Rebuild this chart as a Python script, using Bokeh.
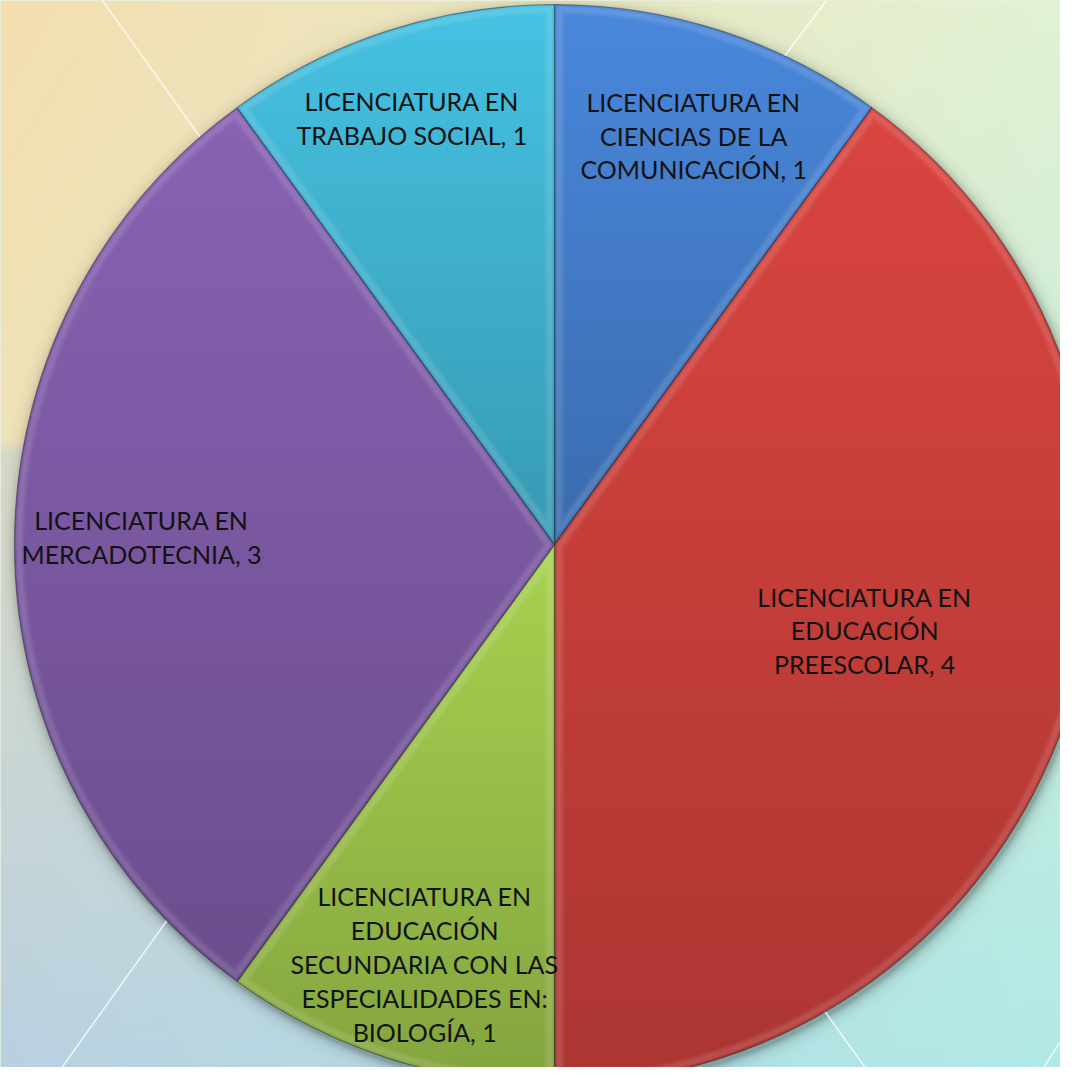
import numpy as np
from bokeh.plotting import figure
from bokeh.models import Range1d
from bokeh.core.properties import value
from bokeh.embed import file_html
from bokeh.resources import INLINE

# ---------------- data ----------------
categories = [
    "LICENCIATURA EN CIENCIAS DE LA COMUNICACIÓN",
    "LICENCIATURA EN EDUCACIÓN PREESCOLAR",
    "LICENCIATURA EN EDUCACIÓN SECUNDARIA CON LAS ESPECIALIDADES EN: BIOLOGÍA",
    "LICENCIATURA EN MERCADOTECNIA",
    "LICENCIATURA EN TRABAJO SOCIAL",
]
category_lines = [
    ["LICENCIATURA EN", "CIENCIAS DE LA", "COMUNICACIÓN"],
    ["LICENCIATURA EN", "EDUCACIÓN", "PREESCOLAR"],
    ["LICENCIATURA EN", "EDUCACIÓN", "SECUNDARIA CON LAS", "ESPECIALIDADES EN:", "BIOLOGÍA"],
    ["LICENCIATURA EN", "MERCADOTECNIA"],
    ["LICENCIATURA EN", "TRABAJO SOCIAL"],
]
values = [1, 4, 1, 3, 1]

# ---------------- styling / layout ----------------
slice_colors = ["#4A88DC", "#DA4540", "#A8D250", "#8862B3", "#46C2E2"]
label_frac = [0.80, 0.596, 0.813, 0.765, 0.833]
label_dang = [0.8, -2.5, -0.8, 1.0, -0.5]  # degrees

W, H = 1060, 1067
REF_H = 1083
X0, Y0 = 0, REF_H - H
CX, CY_REF = 554.0, 544.0
CY = REF_H - CY_REF
R = 540.0

total = float(sum(values))
cum = np.concatenate([[0.0], np.cumsum(values)]) / total * 2 * np.pi  # clockwise from top
start_angles = [np.pi / 2 - a for a in cum[:-1]]
end_angles = [np.pi / 2 - a for a in cum[1:]]
mids = (cum[:-1] + cum[1:]) / 2

p = figure(width=W, height=H, x_range=Range1d(X0, X0 + W), y_range=Range1d(Y0, Y0 + H),
           output_backend="svg", toolbar_location=None, min_border=0)
p.axis.visible = False
p.grid.visible = False
p.outline_line_color = None
p.background_fill_color = "#D8E6CC"

# pixel grids (row 0 = bottom)
cols = X0 + np.arange(W) + 0.5
rows_data = Y0 + np.arange(H) + 0.5
XX, YY = np.meshgrid(cols, rows_data)
YREF = REF_H - YY


def hex2rgb(h):
    h = h.lstrip("#")
    return np.array([int(h[i:i + 2], 16) for i in (0, 2, 4)], dtype=float)


# background gradient
lk = [0, 440, 452, 1083]
lc = [hex2rgb(c) for c in ["#F4DEB0", "#EFE3B8", "#DADBC9", "#B9D0E1"]]
rk = [0, 540, 1083]
rc = [hex2rgb(c) for c in ["#E2F2D4", "#C9EEDC", "#B0EAE7"]]
u = (XX / 1076.0)[..., None]
left = np.stack([np.interp(YREF, lk, [c[k] for c in lc]) for k in range(3)], axis=-1)
right = np.stack([np.interp(YREF, rk, [c[k] for c in rc]) for k in range(3)], axis=-1)
bg = left * (1 - u) + right * u
# soft drop shadow around the pie
ds = np.hypot(XX - (CX + 2), YREF - (CY_REF + 4))
sh = np.where(ds > R, 0.28 * np.exp(-(ds - R) / 5.0), 0.28)
bg = bg * (1 - sh[..., None])
img = np.empty((H, W, 4), dtype=np.uint8)
img[..., :3] = np.clip(bg, 0, 255).astype(np.uint8)
img[..., 3] = 255
p.image_rgba(image=[img.view(np.uint32).reshape(H, W)], x=X0, y=Y0, dw=W, dh=H)

# faint decorative lines of the background
deco = [((102, 0), (300, 277)), ((50, 1083), (300, 733)), ((876, 1083), (700, 837)),
        ((1033, 1083), (1076, 1016)), ((826, 0), (700, 167))]
p.segment(x0=[a[0] for a, b in deco], y0=[REF_H - a[1] for a, b in deco],
          x1=[b[0] for a, b in deco], y1=[REF_H - b[1] for a, b in deco],
          line_color="white", line_alpha=0.8, line_width=1.5)

# pie slices
p.wedge(x=CX, y=CY, radius=R, start_angle=start_angles, end_angle=end_angles,
        direction="clock", fill_color=slice_colors, line_color="#1E1E2A",
        line_alpha=0.45, line_width=1.2)

# shading overlays (per-slice vertical gradient + bevel highlight)
dx = XX - CX
dy = CY_REF - YREF
d = np.hypot(dx, dy)
ang = np.mod(np.arctan2(dx, dy), 2 * np.pi)
k_idx = np.clip(np.searchsorted(cum, ang, side="right") - 1, 0, len(values) - 1)
m = np.clip(R - d + 0.5, 0, 1)
inside = d < R
t = np.zeros((H, W))
for k in range(len(values)):
    sel = inside & (k_idx == k)
    if sel.any():
        ymin, ymax = YREF[sel].min(), YREF[sel].max()
        t[sel] = (YREF[sel] - ymin) / max(ymax - ymin, 1)
shade = np.zeros((H, W, 4), dtype=np.uint8)
shade[..., 3] = np.clip(0.21 * t * m * 255, 0, 255).astype(np.uint8)
p.image_rgba(image=[shade.view(np.uint32).reshape(H, W)], x=X0, y=Y0, dw=W, dh=H)

# bevel highlight near slice edges
e_rim = R - d
a0 = cum[k_idx]
a1 = cum[k_idx + 1]
e0 = d * np.sin(np.clip(ang - a0, 0, np.pi / 2))
e1 = d * np.sin(np.clip(a1 - ang, 0, np.pi / 2))
edge = np.minimum(np.minimum(e_rim, e0), e1)
ramp = np.clip((edge - 1.0) / 2.0, 0, 1) * np.clip((11.0 - edge) / 5.0, 0, 1) * inside
hl = np.zeros((H, W, 4), dtype=np.uint8)
hl[..., :3] = 255
hl[..., 3] = np.clip(0.13 * ramp * 255, 0, 255).astype(np.uint8)
p.image_rgba(image=[hl.view(np.uint32).reshape(H, W)], x=X0, y=Y0, dw=W, dh=H)

# data labels
labels = ["\n".join(lines[:-1] + [f"{lines[-1]}, {v}"]) for lines, v in zip(category_lines, values)]
la = mids + np.radians(label_dang)
lx = [CX + f * R * np.sin(a) for f, a in zip(label_frac, la)]
ly = [CY + f * R * np.cos(a) for f, a in zip(label_frac, la)]
p.text(x=lx, y=ly, text=labels, text_align="center", text_baseline="middle",
       text_font=value("Lato"), text_font_size="25px", text_color="#121212",
       text_line_height=1.13)

open("out.html", "w").write(file_html(p, INLINE))
